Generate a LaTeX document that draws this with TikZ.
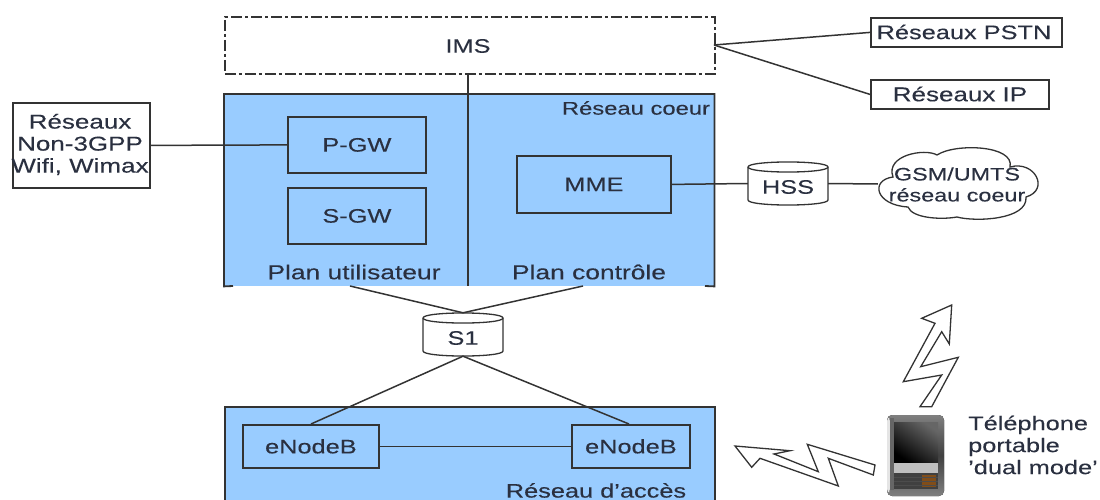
\documentclass[tikz,border=0pt]{standalone}
\usepackage{fontspec}
\setmainfont[FakeStretch=1.3,FakeBold=0.15]{Liberation Sans}
\definecolor{blu}{HTML}{99CCFF}
\definecolor{ink}{HTML}{2A3040}
\definecolor{lin}{HTML}{333333}
\tikzset{
  x=1pt,y=-1pt,
  every node/.style={font=\fontsize{19.5}{22}\selectfont,text=ink,inner sep=0pt,align=center},
  ln/.style={draw=lin,line width=1.8pt},
  zone/.style={fill=blu,anchor=north west},
  whitebox/.style={ln,fill=white,anchor=north west},
  bluebox/.style={ln,fill=blu,anchor=north west},
  conn/.style={draw=lin,line width=1.5pt},
  canline/.style={draw=lin,line width=1.3pt,fill=white},
  bolt/.style={draw=lin,line width=1.3pt,fill=white,line join=miter},
  lbl/.style={anchor=center}
}
\newcommand{\mycan}[4]{%
  \node[minimum width=80pt,minimum height=43pt] (#1) at (#2,#3) {};
  \begin{scope}[shift={(#2,#3)}]
    \path[canline] (-40,-16.5) .. controls (-40,-23.2) and (40,-23.2) .. (40,-16.5) -- (40,16.5) .. controls (40,23.2) and (-40,23.2) .. (-40,16.5) -- cycle;
    \path[canline,fill=none] (-40,-16.5) .. controls (-40,-9.8) and (40,-9.8) .. (40,-16.5);
  \end{scope}
  \node at (#2,#3+3.5) {#4};
}
\begin{document}
\begin{tikzpicture}
\useasboundingbox (0,0) rectangle (1100,500);
\clip (0,0) rectangle (1100,500);
% zones
\node[zone,minimum width=490pt,minimum height=192pt] (core) at (224,94) {};
\draw[ln] (233,286) -- (core.south west) -- (core.north west) -- (core.north east) -- (core.south east) -- (705,286);
\node[zone,ln,minimum width=490pt,minimum height=110pt] (access) at (224,406) {};
\node[ln,dash pattern=on 11pt off 3pt on 3pt off 3pt,anchor=north west,minimum width=490pt,minimum height=57pt,fill=white] (ims) at (224,16) {};
\node at (468,46) {IMS};
\coordinate (divb) at (468,286);
\draw[ln] (468,73) -- (divb);
% boxes
\node[bluebox,minimum width=138pt,minimum height=56pt] (pgw) at (287,116) {};
\node at (pgw.center) {P-GW};
\node[bluebox,minimum width=138pt,minimum height=56pt] (sgw) at (287,187) {};
\node at (sgw.center) {S-GW};
\node[bluebox,minimum width=154pt,minimum height=57pt] (mme) at (516,155) {};
\node at (mme.center) {MME};
\node[whitebox,minimum width=137pt,minimum height=85pt] (nong) at (12,102) {};
\node[font=\fontsize{20}{22}\selectfont] at (80,144.5) {Réseaux\\Non-3GPP\\Wifi, Wimax};
\node[whitebox,minimum width=191pt,minimum height=29pt] (pstn) at (870,17) {};
\node at (964,32) {Réseaux PSTN};
\node[whitebox,minimum width=178pt,minimum height=29pt] (ip) at (870,79) {};
\node[font=\fontsize{20}{22}\selectfont] at (960,94) {Réseaux IP};
\node[bluebox,minimum width=136pt,minimum height=43pt] (enb1) at (242,424) {};
\node at (enb1.center) {eNodeB};
\node[bluebox,minimum width=118pt,minimum height=43pt] (enb2) at (571,424) {};
\node at (enb2.center) {eNodeB};
\mycan{hss}{788}{183.5}{HSS}
\mycan{s1}{463}{334.5}{S1}
% cloud
\node[minimum width=161pt,minimum height=68pt] (gsm) at (958.5,184) {};
\path[canline] (893,177) .. controls (885,155) and (925,148) .. (937,155)
  .. controls (955,143) and (1015,145) .. (1010,167)
  .. controls (1035,160) and (1050,190) .. (1026,197)
  .. controls (1028,220) and (975,222) .. (957,217)
  .. controls (940,220) and (912,218) .. (908,207)
  .. controls (875,205) and (870,180) .. cycle;
\node[font=\fontsize{18}{21}\selectfont] at (957,184.5) {GSM/UMTS\\réseau coeur};
% labels
\node[lbl,font=\fontsize{18.3}{22}\selectfont] at (636,108) {Réseau coeur};
\node[lbl,font=\fontsize{20.3}{22}\selectfont] at (354,272) {Plan utilisateur};
\node[lbl,font=\fontsize{20.3}{22}\selectfont] at (589,272) {Plan contrôle};
\node[lbl] at (596,490.5) {Réseau d'accès};
\node[anchor=west,align=left] (tel) at (968,445) {Téléphone\\portable\\'dual mode'};
% connectors
\coordinate (imsr) at (714,45);
\draw[conn] (imsr) -- (pstn.west);
\draw[conn] (imsr) -- (ip.west);
\draw[conn] (nong.east) -- (pgw.west);
\draw[conn] (mme.east) -- (hss.west);
\draw[conn] (hss.east) -- (gsm.west);
\coordinate (cl) at (350,286);
\coordinate (cr) at (583,286);
\coordinate (e1top) at (311,424);
\coordinate (e2top) at (629,424);
\draw[conn] (cl) -- (s1.north) -- (cr);
\draw[conn] (e1top) -- (s1.south) -- (e2top);
\draw[conn] (enb1.east) -- (enb2.west);
% bolts
\draw[bolt] (951.7,305) -- (921.7,318.3) -- (935,323.3) -- (903.3,381.7) -- (941.7,375) -- (920,406.7) -- (931.7,406.7) -- (958.3,357.3) -- (920.7,366.7) -- (941.7,331.7) -- (949.3,344) -- cycle;
\draw[bolt] (735,446) -- (790,450.7) -- (774,454) -- (818.3,471.7) -- (807.3,444.3) -- (875,465) -- (873.3,475) -- (828.3,458.3) -- (838.3,486) -- (760,458.3) -- (751.7,467.3) -- cycle;
% phone
\fill[rounded corners=5pt,top color=black!50,bottom color=black!50,middle color=black!75] (887,415) rectangle (944,496);
\fill[black!10,rounded corners=3pt] (887,418) rectangle (890,492);
\fill[black!60] (890,418) rectangle (894,490);
\shade[shading=axis,left color=black!60,right color=black,shading angle=-35] (894,422) rectangle (938,462);
\fill[black!25] (894,463) rectangle (938,473);
\fill[black!75] (894,473) rectangle (938,489);
\fill[orange!45!black!90] (922,475) rectangle (936,487);
\foreach \yy in {477,481,485}{\draw[black!70,line width=0.7pt] (894,\yy) -- (938,\yy);}
\end{tikzpicture}
\end{document}
